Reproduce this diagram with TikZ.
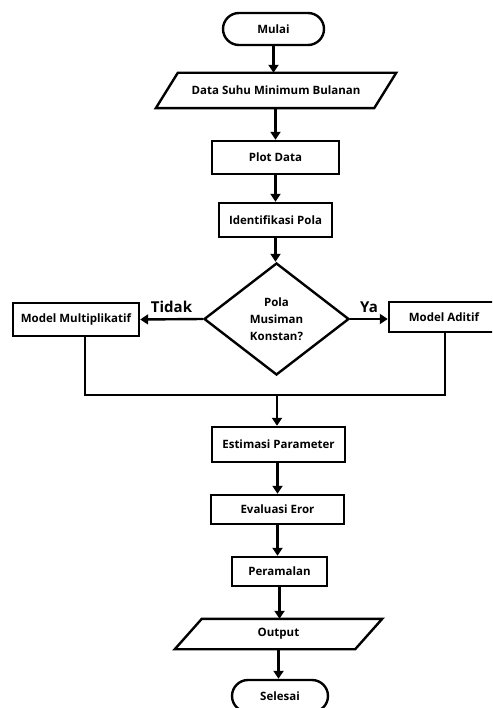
\documentclass[tikz,border=0pt]{standalone}
\usepackage{fontspec}
\setmainfont{Open Sans}
\usetikzlibrary{arrows.meta,shapes.geometric,shapes.misc,calc}
\tikzset{
  flow/.style={line width=2.4pt,-{Triangle[width=10pt,length=8pt]}},
  plain/.style={line width=2.4pt},
  procbox/.style={draw,line width=2.4pt,rectangle,inner sep=0pt,font=\bfseries\fontsize{11.5}{13}\selectfont},
  termbox/.style={draw,line width=2.4pt,rounded rectangle,inner sep=0pt,font=\bfseries\fontsize{11.5}{13}\selectfont},
  iobox/.style={rectangle,inner sep=0pt,font=\bfseries\fontsize{11.5}{13}\selectfont},
  decbox/.style={draw,line width=2.4pt,diamond,inner sep=0pt,aspect=1.3,font=\bfseries\fontsize{11.5}{17}\selectfont,align=center},
  lbl/.style={font=\bfseries\fontsize{15}{17}\selectfont,inner sep=0pt}
}
\begin{document}
\begin{tikzpicture}[x=1pt,y=-1pt]
\clip (0,0) rectangle (492,708);
\fill[white] (0,0) rectangle (492,708);
% nodes
\node[termbox,minimum width=101pt,minimum height=32pt] (start) at (273.5,29) {Mulai};
\node[iobox,minimum width=240pt,minimum height=35pt] (data) at (276,90.5) {Data Suhu Minimum Bulanan};
\draw[plain,line join=miter] ([xshift=22pt]data.north west) -- (data.north east) -- ([xshift=-22pt]data.south east) -- (data.south west) -- cycle;
\node[procbox,minimum width=127pt,minimum height=33pt] (plot) at (275.5,157.5) {Plot Data};
\node[procbox,minimum width=113pt,minimum height=34pt] (ident) at (275.5,220) {Identifikasi Pola};
\node[decbox,minimum width=145pt,minimum height=112pt] (dec) at (276.5,319) {Pola\\Musiman\\Konstan?};
\node[procbox,minimum width=126pt,minimum height=33pt] (multi) at (76,319.5) {Model Multiplikatif};
\node[procbox,minimum width=110pt,minimum height=30pt] (adit) at (444,317) {Model Aditif};
\coordinate (join) at (277,395);
\node[procbox,minimum width=133pt,minimum height=35pt] (est) at (278.5,444.5) {Estimasi Parameter};
\node[procbox,minimum width=133pt,minimum height=29pt] (eval) at (277.5,509.5) {Evaluasi Eror};
\node[procbox,minimum width=95pt,minimum height=29pt] (peram) at (279.5,571.5) {Peramalan};
\node[iobox,minimum width=207pt,minimum height=30pt] (out) at (278.5,634) {Output};
\draw[plain,line join=miter] ([xshift=27pt]out.north west) -- (out.north east) -- ([xshift=-27pt]out.south east) -- (out.south west) -- cycle;
\node[termbox,minimum width=96pt,minimum height=32pt] (end) at (280,696) {Selesai};
% connectors
\draw[flow] (start.south) -- (start.south |- data.north);
\draw[flow] (plot.north |- data.south) -- (plot.north);
\draw[flow] (plot.south) -- (plot.south |- ident.north);
\draw[flow] (ident.south) -- (ident.south |- dec.north);
\draw[flow] (dec.west) -- (multi.east) node[lbl,midway,above=5pt] {Tidak};
\draw[flow] (dec.east) -- (adit.west |- dec.east) node[lbl,midway,above=5pt] {Ya};
\draw[plain] ([xshift=9pt]multi.south) |- (join) -| ([xshift=1pt]adit.south);
\draw[flow] (join) -- (join |- est.north);
\draw[flow] (eval.north |- est.south) -- (eval.north);
\draw[flow] (eval.south) -- (eval.south |- peram.north);
\draw[flow] (peram.south) -- (peram.south |- out.north);
\draw[flow] (out.south) -- (out.south |- end.north);
\end{tikzpicture}
\end{document}
